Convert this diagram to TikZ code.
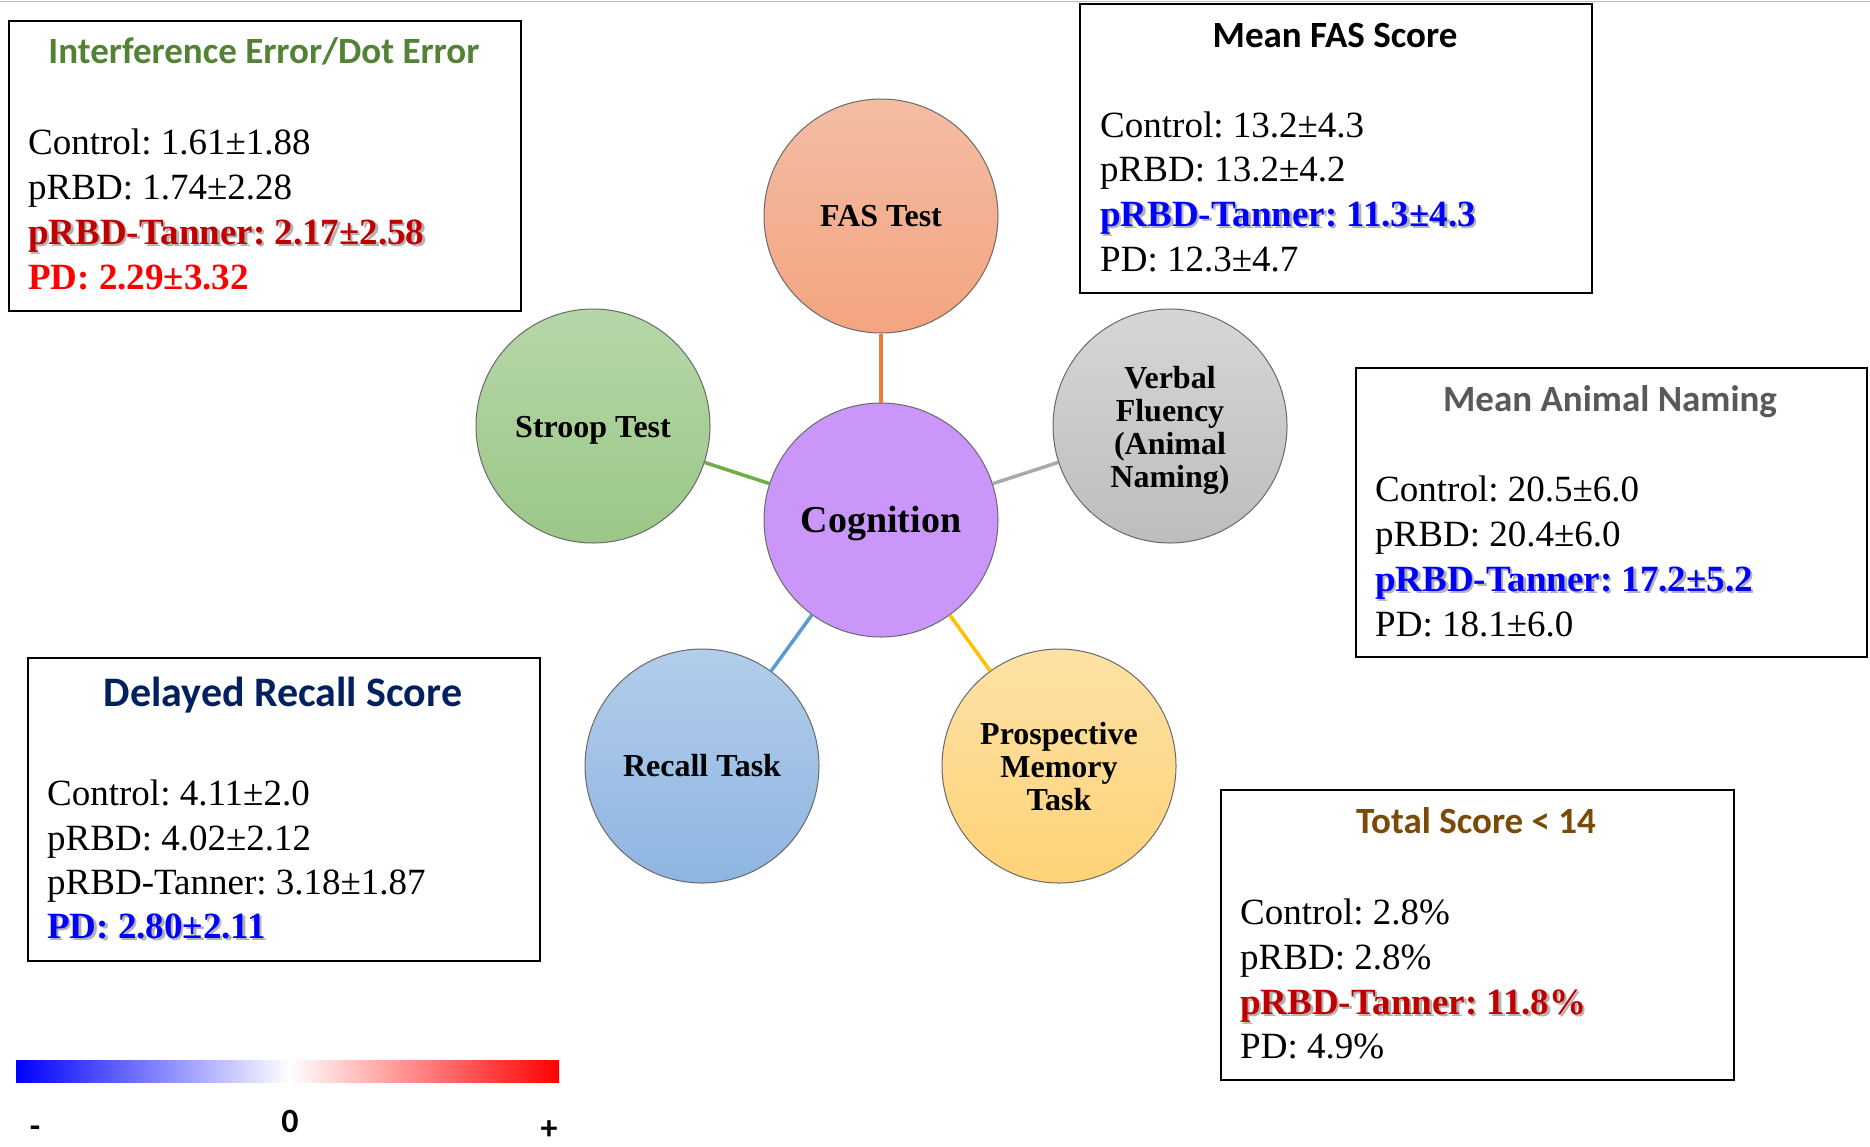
\documentclass[tikz,border=0pt]{standalone}
\usepackage{fontspec}
\setmainfont{Liberation Serif}
\newfontfamily\calib{Carlito}
\frenchspacing

% palette
\definecolor{ttlgreen}{RGB}{84,130,53}
\definecolor{ttlgray}{RGB}{89,89,89}
\definecolor{ttlnavy}{RGB}{0,32,96}
\definecolor{ttlbrown}{RGB}{122,74,6}
\definecolor{hidark}{RGB}{192,0,0}
\definecolor{hired}{RGB}{255,0,0}
\definecolor{hiblue}{RGB}{0,0,255}
\definecolor{rimgray}{RGB}{105,105,105}
\definecolor{lnorange}{RGB}{237,125,49}
\definecolor{lngreen}{RGB}{112,173,71}
\definecolor{lngray}{RGB}{170,170,170}
\definecolor{lnblue}{RGB}{91,155,213}
\definecolor{lngold}{RGB}{255,192,0}
\definecolor{fasT}{RGB}{243,189,164}
\definecolor{fasB}{RGB}{244,164,128}
\definecolor{strT}{RGB}{182,215,168}
\definecolor{strB}{RGB}{156,199,135}
\definecolor{cogF}{RGB}{202,150,250}
\definecolor{verT}{RGB}{214,214,214}
\definecolor{verB}{RGB}{189,189,189}
\definecolor{recT}{RGB}{179,205,235}
\definecolor{recB}{RGB}{142,181,226}
\definecolor{proT}{RGB}{253,225,166}
\definecolor{proB}{RGB}{254,211,118}

% bold coloured text with a soft drop shadow
\newcommand{\glowtext}[2]{\makebox[0pt][l]{\kern2.5pt\raisebox{-2.5pt}{\textcolor{black!30}{#2}}}\textcolor{#1}{#2}}

\begin{document}
\begin{tikzpicture}[x=1pt,y=-1pt,
  panel/.style={draw=black,line width=1.8pt,minimum width=#1,anchor=north west,inner sep=0pt},
  ttl/.style={font=\calib\bfseries\fontsize{37}{44}\selectfont,anchor=base,inner sep=0pt},
  row/.style={font=\fontsize{37}{44}\selectfont,anchor=base west,inner sep=0pt},
  bub/.style={circle,minimum size=234pt,inner sep=0pt,draw=rimgray,line width=1pt},
  lbl/.style={align=center,inner sep=0pt,font=\bfseries\fontsize{32}{33}\selectfont},
  link/.style={line width=3.5pt},
  legend/.style={font=\calib\bfseries\fontsize{34}{40}\selectfont,inner sep=0pt}
]
\useasboundingbox (0,0) rectangle (1870,1146);
\fill[white] (0,0) rectangle (1870,1146);
\draw[black!25,line width=1.5pt] (0,1.5) -- (1870,1.5);

% ---- panels ----
\node[panel=512pt,minimum height=290pt] (p1) at (8,20) {};
\node[panel=512pt,minimum height=289pt] (p2) at (1079,3) {};
\node[panel=511pt,minimum height=289pt] (p3) at (1355,367) {};
\node[panel=512pt,minimum height=303pt] (p4) at (27,657) {};
\node[panel=513pt,minimum height=290pt] (p5) at (1220,789) {};

% Stroop panel
\node[ttl,text=ttlgreen] (t1) at (264,63) {Interference Error/Dot Error};
\node[row] (r11) at (28,154) {Control: 1.61±1.88};
\node[row] (r12) at (28,199) {pRBD: 1.74±2.28};
\node[row] (r13) at (28,244) {\bfseries\glowtext{hidark}{pRBD-Tanner: 2.17±2.58}};
\node[row] (r14) at (28,289) {\bfseries\textcolor{hired}{PD: 2.29±3.32}};

% FAS panel
\node[ttl,text=black] (t2) at (1335,47) {Mean FAS Score};
\node[row] (r21) at (1100,137) {Control: 13.2±4.3};
\node[row] (r22) at (1100,181) {pRBD: 13.2±4.2};
\node[row] (r23) at (1100,226) {\bfseries\glowtext{hiblue}{pRBD-Tanner: 11.3±4.3}};
\node[row] (r24) at (1100,271) {PD: 12.3±4.7};

% animal naming panel
\node[ttl,text=ttlgray] (t3) at (1610,411) {Mean Animal Naming};
\node[row] (r31) at (1375,501) {Control: 20.5±6.0};
\node[row] (r32) at (1375,546) {pRBD: 20.4±6.0};
\node[row] (r33) at (1375,591) {\bfseries\glowtext{hiblue}{pRBD-Tanner: 17.2±5.2}};
\node[row] (r34) at (1375,636) {PD: 18.1±6.0};

% recall panel
\node[ttl,text=ttlnavy,font=\calib\bfseries\fontsize{42}{48}\selectfont] (t4) at (283,706) {Delayed Recall Score};
\node[row] (r41) at (47,805) {Control: 4.11±2.0};
\node[row] (r42) at (47,850) {pRBD: 4.02±2.12};
\node[row] (r43) at (47,894) {pRBD-Tanner: 3.18±1.87};
\node[row] (r44) at (47,938) {\bfseries\glowtext{hiblue}{PD: 2.80±2.11}};

% prospective memory panel
\node[ttl,text=ttlbrown] (t5) at (1476,833) {Total Score < 14};
\node[row] (r51) at (1240,924) {Control: 2.8\%};
\node[row] (r52) at (1240,969) {pRBD: 2.8\%};
\node[row] (r53) at (1240,1014) {\bfseries\glowtext{hidark}{pRBD-Tanner: 11.8\%}};
\node[row] (r54) at (1240,1058) {PD: 4.9\%};

% ---- hub and spokes ----
\node[bub,fill=cogF,label={[lbl,yshift=-4pt,font=\bfseries\fontsize{38}{40}\selectfont]center:Cognition}] (cog) at (881,520) {};
\node[bub,top color=fasT,bottom color=fasB,label={[lbl]center:FAS Test}] (fas) at (881,216) {};
\node[bub,top color=strT,bottom color=strB,label={[lbl,yshift=-4pt]center:Stroop Test}] (str) at (593,426) {};
\node[bub,top color=verT,bottom color=verB,label={[lbl,yshift=-4pt]center:{Verbal\\Fluency\\(Animal\\Naming)}}] (ver) at (1170,426) {};
\node[bub,top color=recT,bottom color=recB,label={[lbl]center:Recall Task}] (rec) at (702,766) {};
\node[bub,top color=proT,bottom color=proB,label={[lbl,yshift=-1pt]center:{Prospective\\Memory\\Task}}] (pro) at (1059,766) {};

\draw[link,lnorange] (cog) -- (fas);
\draw[link,lngreen] (cog) -- (str);
\draw[link,lngray] (cog) -- (ver);
\draw[link,lnblue] (cog) -- (rec);
\draw[link,lngold] (cog) -- (pro);

% ---- colour scale ----
\shade[left color=blue,right color=white] (16,1060) rectangle (290,1082);
\shade[left color=white,right color=red] (289,1060) rectangle (559,1082);
\node[legend] (lminus) at (35,1132) {-};
\node[legend] (lzero) at (290,1121) {0};
\node[legend,anchor=base] (lplus) at (549,1139) {+};
\end{tikzpicture}
\end{document}
